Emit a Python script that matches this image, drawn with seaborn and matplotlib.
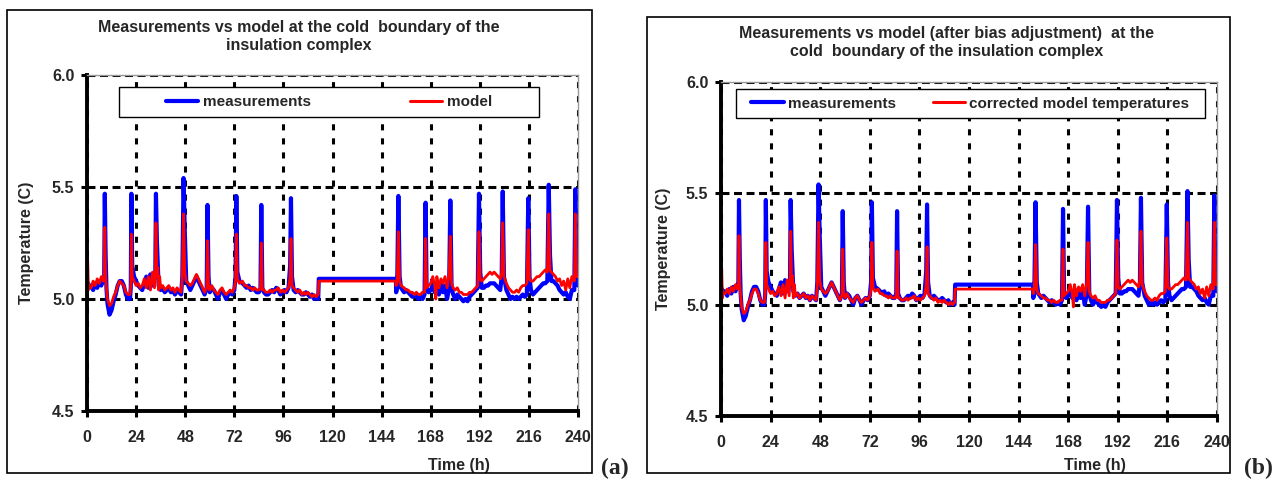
import matplotlib.pyplot as plt
import seaborn as sns
import pandas as pd
from matplotlib.patches import Rectangle
from matplotlib.lines import Line2D

# measured temperature at the cold boundary (time in h, temperature in C)
meas_pts = [(0,5.04),(0.5,5.07),(1,5.05),(2,5.06),(3,5.04),(4,5.07),(5,5.05),(6,5.08),(7,5.06),(8,5.09),(8.4,5.1),(8.7,5.47),(9.1,5.2),
    (9.5,5.05),(10,4.98),(11,4.93),(12,4.95),(13,4.99),(14,5.02),(15,5.06),(16,5.08),(17,5.08),(18,5.06),(19,5.02),(20,5.0),(21,5.0),
    (21.4,5.05),(21.7,5.47),(22.1,5.15),(23,5.1),(24,5.08),(25,5.06),(26,5.05),(27,5.04),(28,5.07),(29,5.1),(30,5.05),(31,5.11),(32,5.06),
    (33,5.1),(33.4,5.12),(33.7,5.47),(34.2,5.25),(35,5.06),(36,5.04),(37,5.05),(38,5.03),(39,5.04),(40,5.05),(41,5.03),(42,5.04),(43,5.02),
    (44,5.04),(45,5.03),(46,5.02),(46.6,5.1),(47.2,5.54),(47.8,5.3),(48.5,5.08),(49.5,5.06),(50.5,5.04),(51.5,5.06),(52.5,5.08),(53.5,5.1),
    (54.5,5.08),(55.5,5.06),(56.5,5.04),(57.5,5.02),(58.5,5.05),(58.9,5.42),(59.4,5.1),(60,5.03),(61,5.05),(62,5.04),(63,5.02),(64,5.0),
    (65,5.03),(66,5.04),(67,5.02),(68,5.0),(69,5.02),(70,5.03),(71,5.02),(72,5.04),(72.6,5.1),(73,5.46),(73.5,5.12),(74.5,5.08),(76,5.07),
    (77,5.06),(78,5.05),(79,5.06),(80,5.04),(81,5.05),(82,5.04),(83,5.03),(84,5.03),(84.8,5.05),(85.2,5.42),(85.7,5.05),(86.5,5.03),
    (87.5,5.02),(88.5,5.02),(89.5,5.03),(90.5,5.04),(91.5,5.03),(92.5,5.05),(93.5,5.04),(94.5,5.02),(95.5,5.03),(96.5,5.04),(97.5,5.03),
    (98.5,5.05),(99.3,5.15),(99.7,5.45),(100.2,5.1),(101,5.04),(102,5.03),(103,5.04),(104,5.03),(105,5.02),(106,5.02),(107,5.03),(108,5.02),
    (109,5.01),(110,5.02),(111,5.0),(112,5.01),(113,5.0),(113.3,5.09),(151,5.09),(151.1,5.03),(151.6,5.05),(152.2,5.46),(152.8,5.1),
    (153.5,5.05),(155,5.03),(156,5.04),(157,5.03),(158,5.02),(159,5.01),(160,5.02),(161,5.01),(162,5.0),(163,5.01),(164,5.0),(165,5.02),
    (165.5,5.43),(166,5.05),(167,5.03),(168,5.04),(169,5.06),(170,5.03),(171,5.06),(172,5.02),(173,5.07),(174,5.03),(175,5.06),(176,5.0),
    (177,5.05),(177.6,5.44),(178.2,5.05),(179,5.02),(180,5.0),(181,5.02),(182,5.01),(183,5.0),(184,4.99),(185,5.0),(186,4.99),(187,5.01),
    (188,5.02),(189,5.03),(190,5.04),(191,5.05),(191.6,5.47),(192.2,5.12),(193,5.05),(194,5.05),(195,5.06),(196,5.06),(197,5.07),(198,5.07),
    (199,5.07),(200,5.06),(201,5.05),(202,5.04),(202.7,5.1),(203.2,5.48),(203.8,5.1),(205,5.04),(206,5.02),(207,5.0),(208,5.01),(209,5.0),
    (210,5.01),(211,5.0),(212,5.01),(213,5.02),(214,5.01),(215,5.02),(215.7,5.45),(216.3,5.1),(217,5.04),(218,5.02),(219,5.03),(220,5.04),
    (221,5.05),(222,5.06),(223,5.07),(224,5.07),(225,5.08),(225.7,5.51),(226.3,5.2),(227,5.08),(228,5.08),(229,5.07),(230,5.06),(231,5.04),
    (232,5.03),(233,5.02),(234,5.03),(235,5.01),(236,5.0),(237,5.04),(238.2,5.04),(238.7,5.49),(239.2,5.1),(240,5.06)]

# model (a) and bias-corrected model (b): (time, model_a, model_b)
model_pts = [(0,5.03,5.03),(0.3,5.18,5.17),(0.7,5.04,5.03),(1,5.06,5.05),(2,5.05,5.05),(3,5.08,5.07),(4,5.06,5.05),(5,5.09,5.08),
    (6,5.07,5.06),(7,5.1,5.09),(8,5.08,5.07),(8.4,5.1,5.09),(8.7,5.32,5.31),(9.1,5.1,5.09),(9.5,5.05,5.04),(10,5.0,4.99),(11,4.97,4.96),
    (12,4.98,4.97),(13,5.01,5.0),(14,5.03,5.02),(15,5.06,5.05),(16,5.08,5.07),(17,5.07,5.07),(18,5.06,5.05),(19,5.03,5.02),(20,5.02,5.01),
    (21,5.02,5.01),(21.4,5.06,5.05),(21.7,5.29,5.28),(22.1,5.1,5.09),(23,5.08,5.07),(24,5.06,5.05),(25,5.07,5.06),(26,5.05,5.04),
    (27,5.06,5.05),(28,5.09,5.08),(29,5.05,5.04),(30,5.1,5.09),(31,5.04,5.03),(32,5.12,5.11),(33,5.05,5.04),(33.4,5.12,5.11),
    (33.7,5.34,5.33),(34.2,5.1,5.09),(34.6,5.14,5.13),(35,5.04,5.03),(35.5,5.1,5.09),(36,5.05,5.04),(37,5.06,5.05),(38,5.04,5.03),
    (39,5.05,5.04),(40,5.06,5.05),(41,5.04,5.03),(42,5.05,5.04),(43,5.03,5.02),(44,5.05,5.04),(45,5.04,5.03),(46,5.03,5.02),
    (46.6,5.1,5.09),(47.2,5.38,5.37),(47.8,5.12,5.11),(48.5,5.08,5.07),(49.5,5.07,5.06),(50.5,5.06,5.05),(51.5,5.07,5.06),
    (52.5,5.09,5.08),(53.5,5.11,5.1),(54.5,5.09,5.08),(55.5,5.07,5.06),(56.5,5.05,5.04),(57.5,5.03,5.02),(58.5,5.05,5.04),
    (58.9,5.26,5.25),(59.4,5.06,5.05),(60,5.04,5.03),(61,5.06,5.05),(62,5.04,5.03),(63,5.03,5.02),(64,5.02,5.01),(65,5.04,5.03),
    (66,5.05,5.04),(67,5.03,5.02),(68,5.02,5.01),(69,5.03,5.02),(70,5.04,5.03),(71,5.03,5.02),(72,5.05,5.04),(72.6,5.08,5.07),
    (73,5.29,5.28),(73.5,5.09,5.08),(74.5,5.07,5.06),(76,5.08,5.07),(77,5.06,5.05),(78,5.06,5.05),(79,5.05,5.04),(80,5.05,5.04),
    (81,5.04,5.03),(82,5.05,5.04),(83,5.04,5.03),(84,5.04,5.03),(84.8,5.05,5.04),(85.2,5.25,5.24),(85.7,5.04,5.03),(86.5,5.04,5.03),
    (87.5,5.03,5.02),(88.5,5.03,5.02),(89.5,5.04,5.03),(90.5,5.03,5.02),(91.5,5.04,5.03),(92.5,5.04,5.03),(93.5,5.05,5.04),
    (94.5,5.03,5.02),(95.5,5.04,5.03),(96.5,5.03,5.02),(97.5,5.04,5.03),(98.5,5.05,5.04),(99.3,5.1,5.09),(99.7,5.27,5.26),
    (100.2,5.06,5.05),(101,5.05,5.04),(102,5.04,5.03),(103,5.03,5.02),(104,5.04,5.03),(105,5.02,5.01),(106,5.03,5.02),(107,5.02,5.01),
    (108,5.03,5.02),(109,5.02,5.01),(110,5.01,5.0),(111,5.02,5.01),(112,5.01,5.0),(113,5.02,5.01),(113.3,5.08,5.07),(151,5.08,5.07),
    (151.1,5.06,5.05),(151.6,5.08,5.07),(152.2,5.30,5.27),(152.8,5.08,5.07),(153.5,5.06,5.05),(155,5.05,5.04),(156,5.04,5.03),
    (157,5.04,5.03),(158,5.03,5.02),(159,5.03,5.02),(160,5.02,5.01),(161,5.03,5.02),(162,5.02,5.01),(163,5.02,5.01),(164,5.03,5.02),
    (165,5.03,5.02),(165.5,5.27,5.25),(166,5.05,5.04),(167,5.06,5.05),(168,5.07,5.06),(169,5.1,5.09),(170,5.06,5.05),(170.5,5.0,4.99),
    (171,5.1,5.09),(172,5.05,5.04),(173,5.09,5.08),(174,5.07,5.06),(175,5.1,5.09),(176,5.05,5.04),(177,5.11,5.1),(177.6,5.28,5.28),
    (178.2,5.07,5.06),(179,5.05,5.04),(180,5.04,5.03),(181,5.05,5.04),(182,5.03,5.02),(183,5.03,5.02),(184,5.02,5.01),(185,5.02,5.01),
    (186,5.02,5.01),(187,5.03,5.02),(188,5.03,5.02),(189,5.04,5.03),(190,5.05,5.04),(191,5.06,5.05),(191.6,5.30,5.29),(192.2,5.09,5.08),
    (193,5.08,5.07),(194,5.09,5.08),(195,5.1,5.09),(196,5.11,5.1),(197,5.12,5.11),(198,5.11,5.1),(199,5.12,5.11),(200,5.11,5.1),
    (201,5.1,5.09),(202,5.09,5.08),(202.7,5.12,5.11),(203.2,5.34,5.33),(203.8,5.1,5.09),(205,5.07,5.06),(206,5.05,5.04),(207,5.04,5.03),
    (208,5.03,5.02),(209,5.03,5.02),(210,5.04,5.03),(211,5.03,5.02),(212,5.05,5.04),(213,5.06,5.05),(214,5.06,5.05),(215,5.07,5.06),
    (215.7,5.31,5.30),(216.3,5.09,5.08),(217,5.08,5.07),(218,5.08,5.07),(219,5.09,5.08),(220,5.1,5.09),(221,5.1,5.09),(222,5.11,5.1),
    (223,5.12,5.11),(224,5.13,5.12),(225,5.12,5.11),(225.7,5.38,5.37),(226.3,5.13,5.12),(227,5.12,5.11),(228,5.11,5.1),(229,5.1,5.09),
    (230,5.08,5.07),(231,5.09,5.08),(232,5.06,5.05),(233,5.08,5.07),(234,5.04,5.03),(235,5.09,5.08),(236,5.05,5.04),(237,5.1,5.09),
    (238.2,5.08,5.07),(238.7,5.38,5.37),(239.2,5.1,5.09),(240,5.1,5.09)]

titles = ['Measurements vs model at the cold  boundary of the\ninsulation complex',
          'Measurements vs model (after bias adjustment)  at the\ncold  boundary of the insulation complex']
model_labels = ['model', 'corrected model temperatures']
panel_tags = ['(a)', '(b)']
x_ticks = [0, 24, 48, 72, 96, 120, 144, 168, 192, 216, 240]
y_ticks = [4.5, 5.0, 5.5, 6.0]

meas = pd.DataFrame(meas_pts, columns=['time', 'temp'])
model = pd.DataFrame(model_pts, columns=['time', 'model_a', 'model_b'])

sns.set_style('white')
plt.rcParams['font.family'] = ['Liberation Sans', 'DejaVu Sans']
plt.rcParams['font.weight'] = 'bold'

fig = plt.figure(figsize=(12.76, 4.82), dpi=100)
W, H = 1276., 482.

# panel frames
fig.add_artist(Rectangle((7/W, 1-473/H), 585/W, 463/H, transform=fig.transFigure, fill=False, ec='black', lw=1.2))
fig.add_artist(Rectangle((647/W, 1-473/H), 583/W, 456/H, transform=fig.transFigure, fill=False, ec='black', lw=1.2))

axes = [fig.add_axes([87/W, 1-411/H, 491/W, 336/H]),
        fig.add_axes([721/W, 1-416/H, 496/W, 334/H])]
# legend box geometry in axes coords: x0, y0, w, h
leg_boxes = [(0.065, 0.875, 0.855, 0.089), (0.030, 0.892, 0.946, 0.087)]
title_pos = [(0.432, 1.115), (0.454, 1.118)]
xlab_pos = [(0.757, -0.14), (0.754, -0.126)]
tag_pos = [(615/W, 1-468/H), (1258/W, 1-468/H)]
colspace = [6.5, 2.4]
ylab_pad = [13, 11]
fs = 11.5

for i, ax in enumerate(axes):
    col = 'model_a' if i == 0 else 'model_b'
    sns.lineplot(data=meas, x='time', y='temp', ax=ax, color='#0000ff', lw=3.0,
                 estimator=None, sort=False, legend=False, zorder=2)
    sns.lineplot(data=model, x='time', y=col, ax=ax, color='#ff0000', lw=2.0,
                 estimator=None, sort=False, legend=False, zorder=2.1)
    ax.set_xlim(0, 240)
    ax.set_ylim(4.5, 6.0)
    ax.set_xticks(x_ticks)
    ax.set_yticks(y_ticks)
    ax.set_yticklabels(['%.1f' % v for v in y_ticks])
    ax.set_axisbelow(True)
    ax.xaxis.grid(True, color='black', lw=2.2, linestyle=(0, (2.0, 2.6)))
    ax.yaxis.grid(True, color='black', lw=2.2, linestyle=(0, (2.6, 1.5)))
    for s in ['left', 'bottom']:
        ax.spines[s].set_color('black')
        ax.spines[s].set_linewidth(2.8)
    for s in ['top', 'right']:
        ax.spines[s].set_color('#999999')
        ax.spines[s].set_linewidth(1.0)
    ax.tick_params(axis='both', bottom=True, left=True, direction='out', length=4, width=2.2,
                   color='black', labelsize=fs)
    ax.tick_params(axis='x', pad=10)
    ax.tick_params(axis='y', pad=5)
    ax.set_ylabel('Temperature (C)', fontsize=fs, fontweight='bold', labelpad=ylab_pad[i])
    ax.set_xlabel('Time (h)', fontsize=fs, fontweight='bold')
    ax.xaxis.set_label_coords(*xlab_pos[i])
    ax.text(title_pos[i][0], title_pos[i][1], titles[i], transform=ax.transAxes, ha='center', va='center',
            fontsize=11.5, fontweight='bold', linespacing=1.3)

    x0, y0, w, h = leg_boxes[i]
    ax.add_patch(Rectangle((x0, y0), w, h, transform=ax.transAxes, fc='white', ec='black', lw=1.0,
                           zorder=4, clip_on=False))
    handles = [Line2D([], [], color='#0000ff', lw=3.0), Line2D([], [], color='#ff0000', lw=2.2)]
    ax.legend(handles, ['measurements', model_labels[i]], loc='center',
              bbox_to_anchor=(x0 + w/2, y0 + h/2), ncol=2, frameon=False, fontsize=11,
              handlelength=2.1, handletextpad=0.3, columnspacing=colspace[i]).set_zorder(5)

    fig.text(tag_pos[i][0], tag_pos[i][1], panel_tags[i], ha='center', va='center',
             family=['Liberation Serif', 'DejaVu Serif'], fontsize=17, fontweight='bold')

plt.savefig('out.png', dpi=100)
plt.close()
